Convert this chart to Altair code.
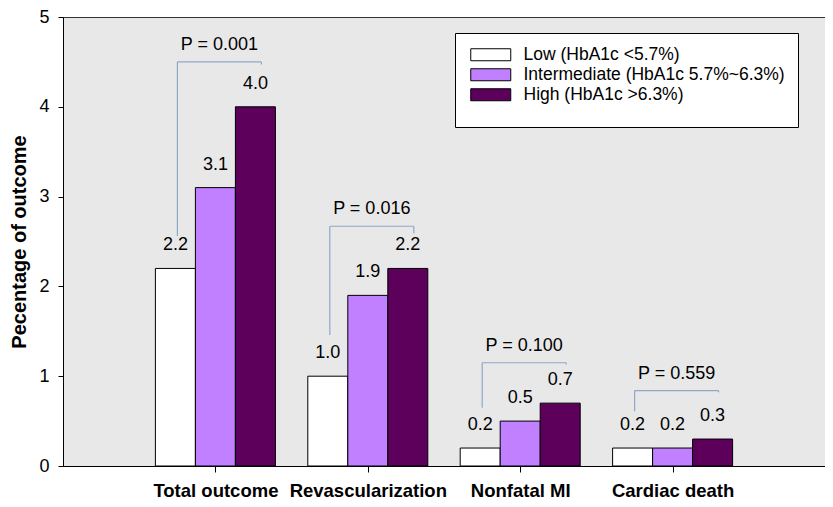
import json
import altair as alt
import pandas as pd

# ---- data ----
categories = ["Total outcome", "Revascularization", "Nonfatal MI", "Cardiac death"]
groups = ["Low (HbA1c <5.7%)", "Intermediate (HbA1c 5.7%~6.3%)", "High (HbA1c >6.3%)"]
low_values = [2.2, 1.0, 0.2, 0.2]
intermediate_values = [3.1, 1.9, 0.5, 0.2]
high_values = [4.0, 2.2, 0.7, 0.3]
p_labels = ["P = 0.001", "P = 0.016", "P = 0.100", "P = 0.559"]
bracket_top = [4.50, 2.67, 1.15, 0.84]
bracket_left_end = [2.56, 1.46, 0.65, 0.61]
bracket_right_end = [4.47, 2.59, 1.13, 0.82]
y_title = "Pecentage of outcome"

# ---- styles / layout ----
colors = ["#ffffff", "#c080ff", "#5c005c"]
bracket_color = "#8fa8c8"
FONT = "Liberation Sans"
WIDTH = 762
HEIGHT = 449
STEP_PX = WIDTH / 5.0
BAR_PX = 40.0
bw = BAR_PX / STEP_PX
left_off = -38 / STEP_PX
right_off = 46 / STEP_PX

series = [low_values, intermediate_values, high_values]
bar_rows = []
for i, cat in enumerate(categories):
    for j, g in enumerate(groups):
        v = series[j][i]
        x0 = (i + 1) + (j - 1.5) * bw
        bar_rows.append({
            "outcome": cat, "group": g, "value": v,
            "x0": x0, "x1": x0 + bw, "xc": x0 + bw / 2,
            "label": f"{v:.1f}",
        })
bar_df = pd.DataFrame(bar_rows)

br_rows = []
for i, cat in enumerate(categories):
    xl = (i + 1) + left_off
    xr = (i + 1) + right_off
    br_rows.append({
        "outcome": cat, "p": p_labels[i], "top": bracket_top[i],
        "lend": bracket_left_end[i], "rend": bracket_right_end[i],
        "xl": xl, "xr": xr, "xm": (xl + xr) / 2,
    })
br_df = pd.DataFrame(br_rows)

label_expr = json.dumps([""] + categories + [""]) + "[datum.value]"

x_scale = alt.Scale(domain=[0, 5], nice=False, zero=False)
y_scale = alt.Scale(domain=[0, 5], nice=False)

x_axis = alt.Axis(values=[1, 2, 3, 4], labelExpr=label_expr, title=None, grid=False,
                  labelFont=FONT, labelFontSize=18.5, labelFontWeight="bold",
                  labelColor="black", tickSize=6, labelPadding=9,
                  domainColor="black", tickColor="black", labelFlush=False,
                  labelOverlap=False)
y_axis = alt.Axis(values=[0, 1, 2, 3, 4, 5], format="d", title=y_title, grid=False,
                  labelFont=FONT, labelFontSize=18, labelColor="black",
                  tickSize=5, labelPadding=9, domainColor="black", tickColor="black",
                  titleFont=FONT, titleFontSize=20, titleFontWeight="bold",
                  titleColor="black", titleAngle=270, titleX=-38, titleY=HEIGHT / 2,
                  titleAlign="center", titleBaseline="alphabetic", labelFlush=False)

legend = alt.Legend(title=" ", titleOrient="bottom", titleFontSize=8, titlePadding=3,
                    orient="none", legendX=392, legendY=16,
                    fillColor="white", strokeColor="black", padding=13,
                    symbolType="M-1,-1H5.667V1H-1Z", symbolSize=144,
                    symbolStrokeColor="black", symbolStrokeWidth=1,
                    labelFont=FONT, labelFontSize=17.5, labelColor="black",
                    labelOffset=38, rowPadding=1, labelLimit=400)

bars = alt.Chart(bar_df).mark_rect(stroke="black", strokeWidth=1).encode(
    x=alt.X("x0:Q", scale=x_scale, axis=x_axis),
    x2="x1:Q",
    y=alt.Y("value:Q", scale=y_scale, axis=y_axis),
    y2=alt.datum(0),
    fill=alt.Fill("group:N", scale=alt.Scale(domain=groups, range=colors), legend=legend),
)

values = alt.Chart(bar_df).mark_text(font=FONT, fontSize=18, baseline="alphabetic",
                                     dy=-18, color="black").encode(
    x=alt.X("xc:Q", title=None),
    y=alt.Y("value:Q", title=y_title),
    text="label:N",
)

left_leg = alt.Chart(br_df).mark_rule(color=bracket_color, strokeWidth=1.2).encode(
    x=alt.X("xl:Q", title=None), y=alt.Y("lend:Q", title=y_title), y2="top:Q")
right_leg = alt.Chart(br_df).mark_rule(color=bracket_color, strokeWidth=1.2).encode(
    x=alt.X("xr:Q", title=None), y=alt.Y("rend:Q", title=y_title), y2="top:Q")
top_bar = alt.Chart(br_df).mark_rule(color=bracket_color, strokeWidth=1.2).encode(
    x=alt.X("xl:Q", title=None), x2="xr:Q", y=alt.Y("top:Q", title=y_title))
p_text = alt.Chart(br_df).mark_text(font=FONT, fontSize=18, baseline="alphabetic",
                                    dy=-12, color="black").encode(
    x=alt.X("xm:Q", title=None), y=alt.Y("top:Q", title=y_title), text="p:N")

chart = alt.layer(bars, values, left_leg, right_leg, top_bar, p_text).properties(
    width=WIDTH, height=HEIGHT,
    autosize=alt.AutoSizeParams(type="none"),
    padding={"left": 55, "top": 9, "right": 0, "bottom": 33},
).configure_view(fill="#e8e8e8", stroke="#333333", strokeWidth=1)

chart.save("out.html", embed_options={"renderer": "svg", "actions": False})
